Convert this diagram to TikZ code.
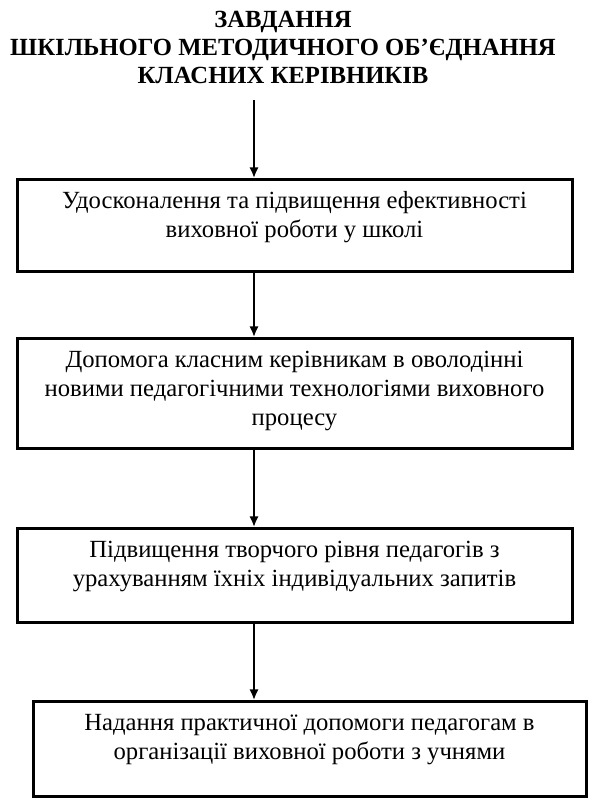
\documentclass[tikz,border=0pt]{standalone}
\usepackage{fontspec}
\setmainfont{Liberation Serif}
\usetikzlibrary{arrows.meta}

\tikzset{
    blocco/.style={draw, line width=2.25pt, inner sep=0pt, anchor=north},
    titolo/.style={inner sep=0pt, anchor=north, font=\fontsize{18.5}{21}\selectfont\bfseries}
}

\begin{document}
\begin{tikzpicture}[x=1pt, y=-1pt, font=\fontsize{18.5}{21.5}\selectfont, line width=1.5pt, >={Latex[length=8pt, width=7pt]}]

        \useasboundingbox (0,0) rectangle (450,604.5);

        % --- Titolo in alto ---
        \node[titolo] (tit) at (212.25,0) {\parbox{430pt}{\centering\rule{0pt}{20.25pt}ЗАВДАННЯ\\
            ШКІЛЬНОГО МЕТОДИЧНОГО ОБ’ЄДНАННЯ\\ КЛАСНИХ КЕРІВНИКІВ}};

        % --- Blocchi dei compiti ---
        % \i = indice, \x = centro orizzontale, \y = bordo superiore, \w = larghezza, \h = altezza
        \foreach \i/\x/\y/\w/\h/\testo in {
            1/220.875/133.5/416.25/69/{Удосконалення та підвищення ефективності\\ виховної роботи у школі},
            2/220.875/252.75/416.25/82.5/{Допомога класним керівникам в оволодінні\\ новими педагогічними технологіями виховного\\ процесу},
            3/220.875/395.25/416.25/70.5/{Підвищення творчого рівня педагогів з\\ урахуванням їхніх індивідуальних запитів},
            4/232.125/525/414.75/71.25/{Надання практичної допомоги педагогам в\\ організації виховної роботи з учнями}
        } {
            \node[blocco] (b\i) at (\x,\y) {\parbox[c][\h pt][t]{\w pt}{\centering\rule{0pt}{22pt}\testo}};
        }

        % --- Frecce verticali ---
        \coordinate (ax) at (190.5,0);
        \draw[->, shorten <=11pt] (tit.south -| ax) -- (b1.north -| ax);
        \foreach \a/\b in {1/2, 2/3, 3/4}
            \draw[->] (b\a.south -| ax) -- (b\b.north -| ax);

    \end{tikzpicture}
\end{document}
